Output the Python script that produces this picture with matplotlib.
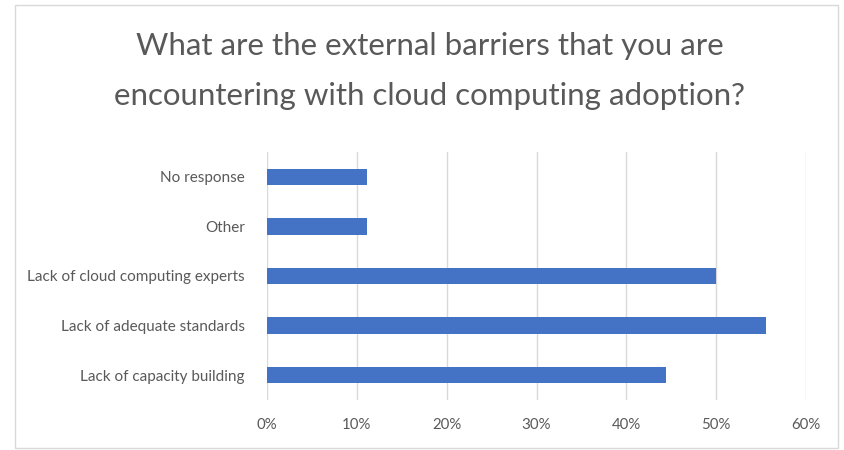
import matplotlib
matplotlib.use("Agg")
import matplotlib.pyplot as plt
from matplotlib.patches import Rectangle
from matplotlib.ticker import FuncFormatter

categories = ["Lack of capacity building", "Lack of adequate standards",
              "Lack of cloud computing experts", "Other", "No response"]
values = [44.4, 55.6, 50.0, 11.1, 11.1]
xticks = [0, 10, 20, 30, 40, 50, 60]
title_lines = ["What are the external barriers that you are",
               "encountering with cloud computing adoption?"]

plt.rcParams['font.family'] = ['Lato', 'DejaVu Sans']

fig = plt.figure(figsize=(8.44, 4.5), dpi=100)
fig.patch.set_facecolor('white')
fig.patches.append(Rectangle((15/844, 2/450), 823/844, 443/450, transform=fig.transFigure,
                             fill=False, edgecolor='#d9d9d9', linewidth=1))

ax = fig.add_axes([267/844, 1-400/450, (806-267)/844, (400-152)/450])
ypos = list(range(len(categories)))
ax.barh(ypos, values, height=0.33, color='#4472C4', zorder=3)
ax.set_yticks(ypos)
ax.set_yticklabels(categories, fontsize=11, color='#595959')
ax.set_xlim(0, 60)
ax.set_ylim(-0.5, len(categories) - 0.5)
ax.set_xticks(xticks)
ax.xaxis.set_major_formatter(FuncFormatter(lambda v, p: f"{int(v)}%"))
ax.tick_params(axis='x', labelsize=10.8, colors='#595959', length=0, pad=13)
ax.tick_params(axis='y', length=0, pad=16)
ax.grid(axis='x', color='#d9d9d9', linewidth=1, zorder=0)
for s in ax.spines.values():
    s.set_visible(False)

for i, line in enumerate(title_lines):
    fig.text(430/844, 1-(46 + 50*i)/450, line, ha='center', va='center',
             fontsize=22.5, color='#595959')

fig.savefig("out.png", dpi=100)
